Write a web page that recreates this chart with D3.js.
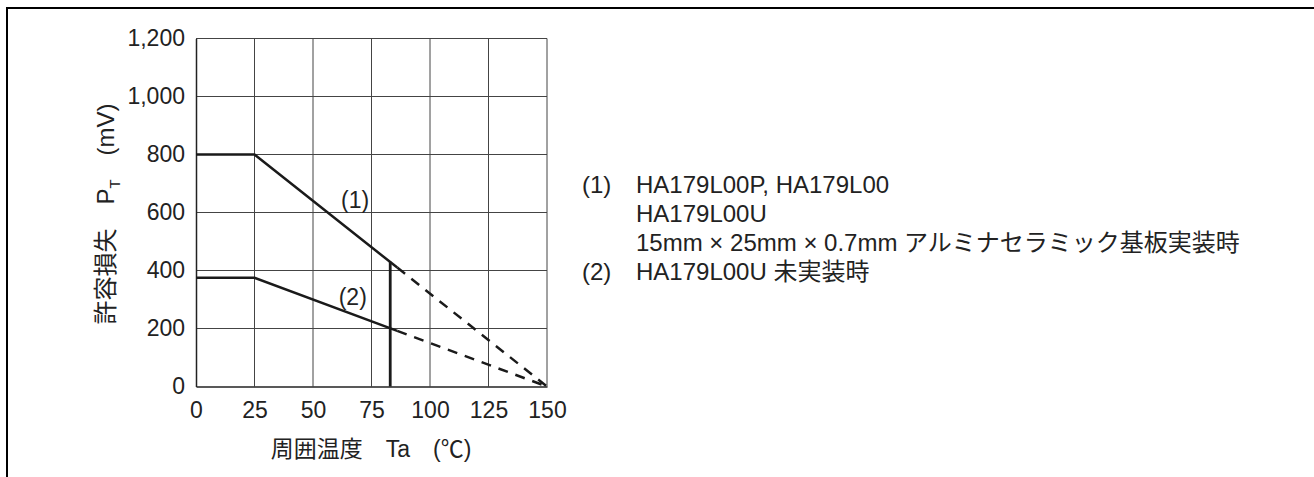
<!DOCTYPE html>
<html><head><meta charset="utf-8">
<script src="https://cdn.jsdelivr.net/npm/d3@7"></script>
<style>
body{margin:0;background:#fff;}
svg{display:block;font-family:"Liberation Sans","Noto Sans CJK JP",sans-serif;}
</style></head>
<body>
<svg id="c" width="1314" height="477"></svg>
<script>
// ---- data ----
const xTicks = [0,25,50,75,100,125,150];
const yTicks = [0,200,400,600,800,1000,1200];
const yTickLabels = ["0","200","400","600","800","1,000","1,200"];
const series1Solid = [[0,800],[25,800],[86,410]];
const series1Dashed = [[86,410],[150,0]];
const series2Solid = [[0,375],[25,375],[86,192]];
const series2Dashed = [[86,192],[150,0]];
const limitLine = [[83,0],[83,430]];
const curveLabels = [{t:"(1)",x:68,y:643},{t:"(2)",x:67,y:310}];
const legendLines = [
  {n:"(1)", t:"HA179L00P, HA179L00"},
  {n:"", t:"HA179L00U"},
  {n:"", t:"15mm × 25mm × 0.7mm アルミナセラミック基板実装時"},
  {n:"(2)", t:"HA179L00U 未実装時"}
];

const svg = d3.select("#c");
// frame (top and left)
svg.append("path").attr("d","M7,477 V8 H1314").attr("fill","none").attr("stroke","#000").attr("stroke-width",2);

const x = d3.scaleLinear().domain([0,150]).range([196,547]);
const y = d3.scaleLinear().domain([0,1200]).range([386.5,38.5]);

// grid
const g = svg.append("g");
g.selectAll("line.v").data(xTicks.slice(1)).join("line")
  .attr("x1",d=>x(d)).attr("x2",d=>x(d)).attr("y1",y(0)).attr("y2",y(1200))
  .attr("stroke","#444").attr("stroke-width",1);
g.selectAll("line.h").data(yTicks.slice(1)).join("line")
  .attr("x1",x(0)).attr("x2",x(150)).attr("y1",d=>y(d)).attr("y2",d=>y(d))
  .attr("stroke","#444").attr("stroke-width",1);

// axes
const xAxis = d3.axisBottom(x).tickValues(xTicks).tickSize(0).tickPadding(15);
const ax = svg.append("g").attr("transform",`translate(0,${y(0)})`).call(xAxis);
ax.select(".domain").attr("stroke","#222").attr("stroke-width",1.5);
ax.selectAll("text").attr("font-size",23).attr("fill","#222").attr("font-family","Liberation Sans, sans-serif");
const yAxis = d3.axisLeft(y).tickValues(yTicks).tickFormat((d,i)=>yTickLabels[i]).tickSize(0).tickPadding(11);
const ay = svg.append("g").attr("transform",`translate(${x(0)},0)`).call(yAxis);
ay.select(".domain").attr("stroke","#222").attr("stroke-width",1.5);
ay.selectAll("text").attr("font-size",23).attr("fill","#222").attr("font-family","Liberation Sans, sans-serif");

// lines
const line = d3.line().x(d=>x(d[0])).y(d=>y(d[1]));
function draw(data, dash, w){
  svg.append("path").datum(data).attr("d",line).attr("fill","none")
    .attr("stroke","#1a1a1a").attr("stroke-width",w||2.5)
    .attr("stroke-dasharray",dash||null);
}
draw(series1Solid); draw(series2Solid);
draw(series1Dashed,"10,8"); draw(series2Dashed,"10,8");
draw(limitLine,null,2.8);

svg.selectAll("text.cl").data(curveLabels).join("text")
  .attr("x",d=>x(d.x)).attr("y",d=>y(d.y)).attr("dy","0.36em").attr("text-anchor","middle")
  .attr("font-size",23).attr("fill","#222").text(d=>d.t);

// axis titles
const yt = svg.append("text").attr("transform","translate(114,214) rotate(-90)")
  .attr("text-anchor","middle").attr("font-size",24).attr("fill","#222");
yt.append("tspan").text("許容損失　P");
yt.append("tspan").attr("font-size",15).attr("dy",6).text("T");
yt.append("tspan").attr("dy",-6).text("　(mV)");

const xt = svg.append("text").attr("x",371).attr("y",457).attr("text-anchor","middle")
  .attr("font-size",23).attr("fill","#222");
xt.append("tspan").text("周囲温度　Ta　(℃)");

// legend
const lg = svg.append("g").attr("font-size",24).attr("fill","#222");
legendLines.forEach((l,i)=>{
  const yy = 192.5 + i*29;
  if(l.n) lg.append("text").attr("x",582).attr("y",yy).text(l.n);
  lg.append("text").attr("x",636).attr("y",yy).text(l.t);
});
</script>
</body></html>
